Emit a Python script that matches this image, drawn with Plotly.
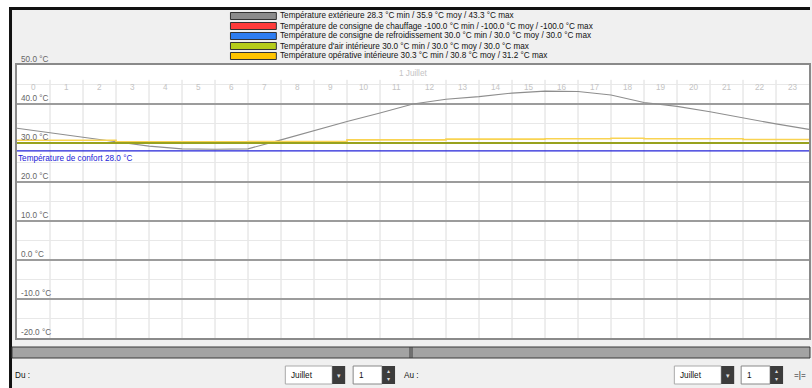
import plotly.graph_objects as go

# hourly values for 1 Juillet (hour 0..24)
hours = list(range(25))
t_exterieure = [33.8, 32.6, 31.4, 30.3, 29.2, 28.5, 28.4, 28.5, 30.8, 33.2, 35.5, 37.7, 40.0,
                41.2, 41.9, 42.8, 43.3, 43.2, 42.3, 40.4, 39.4, 38.0, 36.4, 34.9, 33.5]
consigne_chauffage = [-100.0] * 25
consigne_refroid = [30.0] * 25
t_air = [30.0] * 25
t_operative = [30.7, 30.7, 30.7, 30.3, 30.3, 30.3, 30.3, 30.4, 30.4, 30.4, 30.8, 30.8, 30.8,
               31.0, 31.0, 31.0, 31.1, 31.1, 31.2, 31.1, 31.1, 31.1, 30.9, 30.9, 30.9]
t_confort = 28.0

series_names = [
    "Température extérieure 28.3 °C min / 35.9 °C moy / 43.3 °C max",
    "Température de consigne de chauffage -100.0 °C min / -100.0 °C moy / -100.0 °C max",
    "Température de consigne de refroidissement 30.0 °C min / 30.0 °C moy / 30.0 °C max",
    "Température d'air intérieure 30.0 °C min / 30.0 °C moy / 30.0 °C max",
    "Température opérative intérieure 30.3 °C min / 30.8 °C moy / 31.2 °C max",
]
swatch_colors = ["#8c8c8c", "#ff3b3b", "#2f7df0", "#b5cc1a", "#ffc400"]
y_ticks = [50, 40, 30, 20, 10, 0, -10, -20]
hour_labels = [str(h) for h in range(24)]

W, H = 812, 388
L, R, T, B = 17, 811, 65, 338
FONT = "Liberation Sans, Arial, sans-serif"


def px(x):
    return (x - L) / (R - L)


def py(y):
    return (B - y) / (B - T)


fig = go.Figure()
fig.add_trace(go.Scatter(x=hours, y=consigne_chauffage, mode="lines",
                         line=dict(color="#ff3b3b", width=1.5)))
fig.add_trace(go.Scatter(x=hours, y=[t_confort] * 25, mode="lines",
                         line=dict(color="#2323d8", width=1.2)))
fig.add_trace(go.Scatter(x=hours, y=consigne_refroid, mode="lines",
                         line=dict(color="#2f7df0", width=1.5)))
fig.add_trace(go.Scatter(x=hours, y=t_exterieure, mode="lines",
                         line=dict(color="#8e8e8e", width=1.1)))
fig.add_trace(go.Scatter(x=hours, y=t_operative, mode="lines", line_shape="hv",
                         line=dict(color="#f9d352", width=1.6)))
fig.add_trace(go.Scatter(x=hours, y=t_air, mode="lines",
                         line=dict(color="#98a21e", width=2)))

shapes = []
# vertical hour grid
for h in range(1, 24):
    shapes.append(dict(type="line", xref="x", yref="y", x0=h, x1=h, y0=-20, y1=46.2,
                       line=dict(color="#dcdcdc", width=1), layer="below"))
# outer frame and header
shapes += [
    dict(type="rect", xref="paper", yref="paper", x0=px(0), x1=px(9), y0=py(388), y1=py(0),
         fillcolor="white", line_width=0),
    dict(type="rect", xref="paper", yref="paper", x0=px(0), x1=px(812), y0=py(7), y1=py(0),
         fillcolor="white", line_width=0),
    dict(type="rect", xref="paper", yref="paper", x0=px(9), x1=px(12), y0=py(388), y1=py(7),
         fillcolor="#111", line_width=0),
    dict(type="rect", xref="paper", yref="paper", x0=px(9), x1=px(812), y0=py(10), y1=py(7),
         fillcolor="#111", line_width=0),
    # scrollbar
    dict(type="rect", xref="paper", yref="paper", x0=px(12), x1=px(812), y0=py(358), y1=py(347),
         fillcolor="#a3a3a3", line=dict(color="#3a3a3a", width=1)),
    dict(type="line", xref="paper", yref="paper", x0=px(411), x1=px(411), y0=py(358), y1=py(347),
         line=dict(color="#3a3a3a", width=1)),
    dict(type="line", xref="paper", yref="paper", x0=px(413), x1=px(413), y0=py(358), y1=py(347),
         line=dict(color="#3a3a3a", width=1)),
]
# legend swatches
for i, c in enumerate(swatch_colors):
    yc = 16 + i * 10
    shapes.append(dict(type="rect", xref="paper", yref="paper", x0=px(231), x1=px(277),
                       y0=py(yc + 3.5), y1=py(yc - 3.5), fillcolor=c,
                       line=dict(color="#333", width=1)))
# bottom controls: dropdowns and spinners
for x0, x1, xb in [(286, 333, 346), (676, 723, 736)]:
    shapes.append(dict(type="rect", xref="paper", yref="paper", x0=px(x0), x1=px(x1),
                       y0=py(384), y1=py(366), fillcolor="white", line=dict(color="#aaa", width=1)))
    shapes.append(dict(type="rect", xref="paper", yref="paper", x0=px(x1), x1=px(xb),
                       y0=py(384), y1=py(366), fillcolor="#3c3c3c", line_width=0))
for x0, x1, xb in [(354, 383, 396), (743, 772, 785)]:
    shapes.append(dict(type="rect", xref="paper", yref="paper", x0=px(x0), x1=px(x1),
                       y0=py(384), y1=py(366), fillcolor="white", line=dict(color="#888", width=1)))
    shapes.append(dict(type="rect", xref="paper", yref="paper", x0=px(x1), x1=px(xb),
                       y0=py(384), y1=py(366), fillcolor="#3c3c3c", line_width=0))

ann = []
for i, name in enumerate(series_names):
    ann.append(dict(xref="paper", yref="paper", x=px(279), y=py(16 + i * 10), text=name,
                    showarrow=False, xanchor="left", yanchor="middle",
                    font=dict(size=8.2, color="#111", family=FONT)))
for v in y_ticks:
    ann.append(dict(xref="paper", yref="y", x=px(19), y=v, text=f"{v:.1f} °C", showarrow=False,
                    xanchor="left", yanchor="bottom", yshift=-1,
                    font=dict(size=8.2, color="#666", family=FONT)))
for h, lab in enumerate(hour_labels):
    ann.append(dict(xref="x", yref="paper", x=h + 0.5, y=py(87), text=lab, showarrow=False,
                    xanchor="center", yanchor="middle", font=dict(size=8.2, color="#c4c4c4", family=FONT)))
ann.append(dict(xref="paper", yref="paper", x=px(414), y=py(73), text="1 Juillet", showarrow=False,
                xanchor="center", yanchor="middle", font=dict(size=8.2, color="#c4c4c4", family=FONT)))
ann.append(dict(xref="paper", yref="y", x=px(16), y=t_confort, yshift=-8,
                text=f"Température de confort {t_confort:.1f} °C", showarrow=False,
                xanchor="left", yanchor="middle", font=dict(size=8.2, color="#2323d8", family=FONT)))
controls = [(13, "Du :"), (290, "Juillet"), (358, "1"), (403, "Au :"), (680, "Juillet"),
            (747, "1"), (794, "=|=")]
for x, t in controls:
    ann.append(dict(xref="paper", yref="paper", x=px(x), y=py(375.5), text=t, showarrow=False,
                    xanchor="left", yanchor="middle", font=dict(size=8.2, color="#111", family=FONT)))
for x in (336, 726):
    ann.append(dict(xref="paper", yref="paper", x=px(x + 3.5), y=py(375), text="▾", showarrow=False,
                    xanchor="center", yanchor="middle", font=dict(size=7, color="#ddd", family=FONT)))
for x in (389.5, 778.5):
    ann.append(dict(xref="paper", yref="paper", x=px(x), y=py(371), text="▴", showarrow=False,
                    xanchor="center", yanchor="middle", font=dict(size=6, color="#ddd", family=FONT)))
    ann.append(dict(xref="paper", yref="paper", x=px(x), y=py(379), text="▾", showarrow=False,
                    xanchor="center", yanchor="middle", font=dict(size=6, color="#ddd", family=FONT)))

fig.update_layout(
    width=W, height=H,
    margin=dict(l=L, r=W - R, t=T, b=H - B, pad=0),
    paper_bgcolor="#f0f0f0", plot_bgcolor="white",
    showlegend=False, shapes=shapes, annotations=ann,
    font=dict(family=FONT),
)
fig.update_xaxes(range=[0, 24], showgrid=False, zeroline=False, showticklabels=False,
                 showline=True, mirror=True, linecolor="#8a8a8a", linewidth=1.5)
fig.update_yaxes(range=[-20, 50], dtick=10, tick0=0, showgrid=True, gridcolor="#9c9c9c",
                 gridwidth=1.5, zeroline=False, showticklabels=False,
                 minor=dict(dtick=5, showgrid=True, gridcolor="#e8e8e8", gridwidth=1),
                 showline=True, mirror=True, linecolor="#8a8a8a", linewidth=1.5)

fig.write_html("out.html", config={"displayModeBar": False},
               post_script="document.body.style.margin='0';document.body.style.overflow='hidden';")
